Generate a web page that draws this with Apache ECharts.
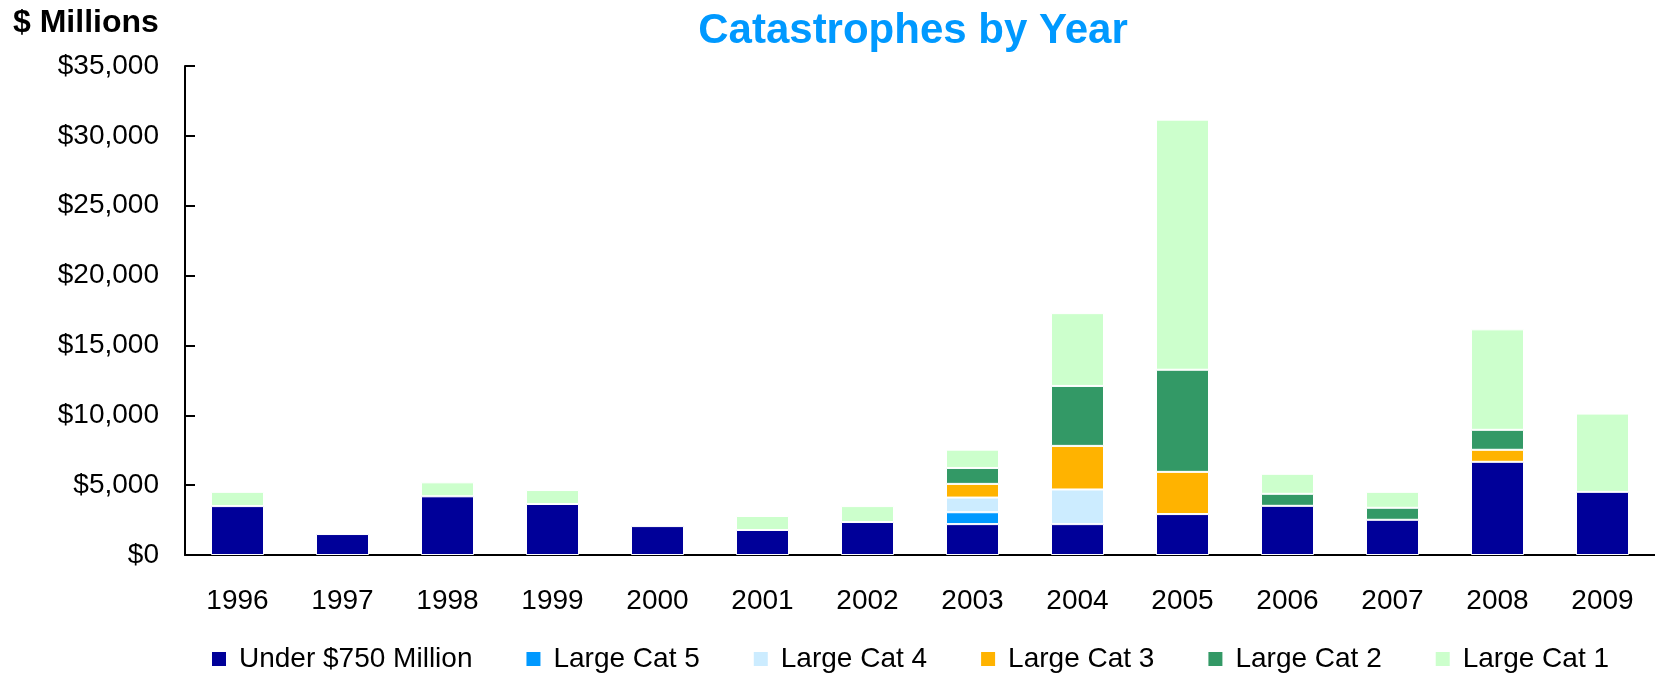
<!DOCTYPE html>
<html>
<head>
<meta charset="utf-8">
<script src="https://cdn.jsdelivr.net/npm/echarts@6/dist/echarts.min.js"></script>
<style>
html,body{margin:0;padding:0;background:#fff;}
#chart{width:1655px;height:678px;}
</style>
</head>
<body>
<div id="chart"></div>
<script>
var years = ['1996','1997','1998','1999','2000','2001','2002','2003','2004','2005','2006','2007','2008','2009'];
var under750 = [3500, 1500, 4200, 3650, 2070, 1790, 2360, 2210, 2210, 2930, 3520, 2520, 6670, 4520];
var largeCat5 = ['-', '-', '-', '-', '-', '-', '-', 850, '-', '-', '-', '-', '-', '-'];
var largeCat4 = ['-', '-', '-', '-', '-', '-', '-', 1050, 2480, '-', '-', '-', '-', '-'];
var largeCat3 = ['-', '-', '-', '-', '-', '-', '-', 980, 3120, 3020, '-', '-', 860, '-'];
var largeCat2 = ['-', '-', '-', '-', '-', '-', '-', 1140, 4290, 7310, 860, 860, 1430, '-'];
var largeCat1 = [1020, '-', 1000, 1000, '-', 1000, 1140, 1310, 5210, 17900, 1430, 1140, 7190, 5600];
var seriesNames = ['Under $750 Million', 'Large Cat 5', 'Large Cat 4', 'Large Cat 3', 'Large Cat 2', 'Large Cat 1'];
var seriesColors = ['#000099', '#0099FF', '#CCECFF', '#FFB300', '#339966', '#CCFFCC'];
var seriesData = [under750, largeCat5, largeCat4, largeCat3, largeCat2, largeCat1];

var FONT = '"Liberation Sans", Arial, Helvetica, sans-serif';

function fmt(v) {
  return '$' + String(v).replace(/\B(?=(\d{3})+(?!\d))/g, ',');
}

var chart = echarts.init(document.getElementById('chart'), null, {renderer: 'canvas'});
var series = seriesNames.map(function (n, i) {
  return {
    name: n,
    type: 'bar',
    stack: 'total',
    barWidth: 53,
    data: seriesData[i],
    itemStyle: {color: seriesColors[i], borderColor: '#ffffff', borderWidth: 1},
    emphasis: {disabled: true}
  };
});

chart.setOption({
  animation: false,
  backgroundColor: '#ffffff',
  textStyle: {fontFamily: FONT},
  graphic: [
    {type: 'text', x: 913, y: 31, style: {text: 'Catastrophes by Year', fill: '#0099FF', font: 'bold 42px ' + FONT, textAlign: 'center', textVerticalAlign: 'middle'}},
    {type: 'text', x: 13, y: 23, style: {text: '$ Millions', fill: '#000000', font: 'bold 32px ' + FONT, textAlign: 'left', textVerticalAlign: 'middle'}}
  ],
  legend: {
    left: 210,
    top: 645,
    padding: 0,
    itemWidth: 16,
    itemHeight: 16,
    itemGap: 52,
    icon: 'rect',
    data: seriesNames,
    textStyle: {fontSize: 28, color: '#000', fontFamily: FONT, padding: [0, 0, 0, 7]}
  },
  grid: {left: 185, top: 66, width: 1473, bottom: 123, containLabel: false},
  xAxis: {
    type: 'category',
    data: years,
    axisLine: {lineStyle: {color: '#000', width: 2}},
    axisTick: {show: false},
    axisLabel: {fontSize: 28, color: '#000', margin: 32, fontFamily: FONT}
  },
  yAxis: {
    type: 'value',
    min: 0,
    max: 35000,
    interval: 5000,
    axisLine: {show: true, lineStyle: {color: '#000', width: 2}},
    axisTick: {show: true, inside: true, length: 10, lineStyle: {color: '#000', width: 2}},
    splitLine: {show: false},
    axisLabel: {fontSize: 28, color: '#000', margin: 26, fontFamily: FONT, formatter: fmt}
  },
  series: series
});
</script>
</body>
</html>
